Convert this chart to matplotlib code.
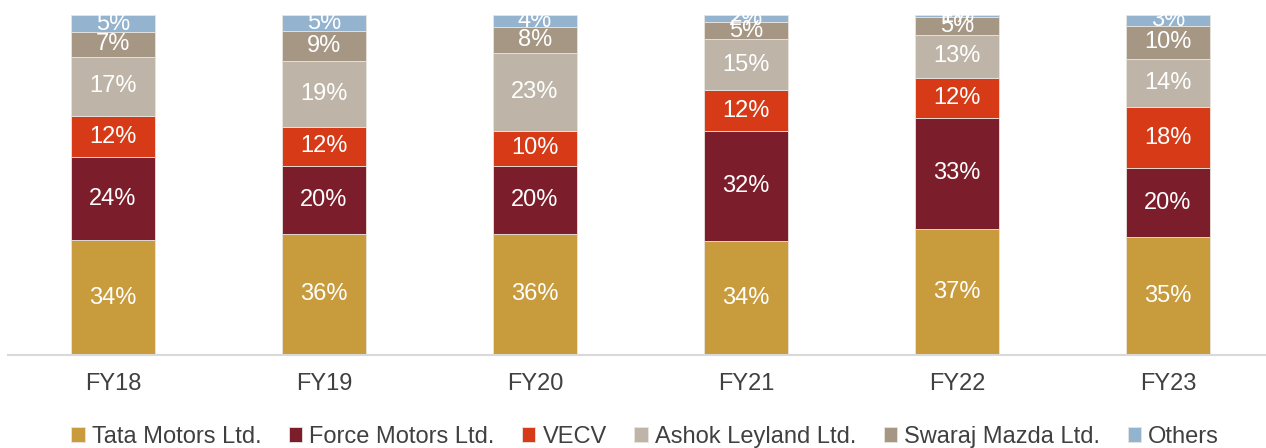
import matplotlib
matplotlib.use("Agg")
import matplotlib.pyplot as plt
import numpy as np

plt.rcParams['font.family'] = ['Liberation Sans', 'DejaVu Sans']

categories = ["FY18", "FY19", "FY20", "FY21", "FY22", "FY23"]
series_names = ["Tata Motors Ltd.", "Force Motors Ltd.", "VECV",
                "Ashok Leyland Ltd.", "Swaraj Mazda Ltd.", "Others"]
# shares (%); labels show them rounded
tata = [33.8, 35.6, 35.6, 33.6, 37.0, 34.6]
force = [24.4, 20.0, 20.0, 32.2, 32.8, 20.3]
vecv = [12.1, 11.6, 10.3, 12.1, 11.7, 17.9]
ashok = [17.4, 19.4, 22.9, 15.0, 12.6, 14.4]
swaraj = [7.3, 8.6, 7.6, 5.0, 5.2, 9.7]
others = [5.0, 4.8, 3.6, 2.1, 0.7, 3.1]
series = [tata, force, vecv, ashok, swaraj, others]
colors = ["#C89B3C", "#7C1D2B", "#D63A16", "#BEB5A8", "#A69784", "#94B3CF"]

fig = plt.figure(figsize=(12.66, 4.48), dpi=100)
ax = fig.add_axes([7.5 / 1266, 93 / 448, 1.0, 340 / 448])

x = np.arange(len(categories))
bottom = np.zeros(len(categories))
handles = []
for name, vals, col in zip(series_names, series, colors):
    vals = np.array(vals, dtype=float)
    bars = ax.bar(x, vals, width=0.398, bottom=bottom, color=col,
                  edgecolor="#e8e4de", linewidth=0.6, label=name, zorder=2)
    ax.bar_label(bars, labels=[f"{v:.0f}%" for v in vals], label_type="center",
                 color="white", fontsize=17, zorder=3)
    handles.append(bars)
    bottom += vals

ax.set_xlim(-0.5, 5.5)
ax.set_ylim(0, 100)
ax.set_yticks([])
ax.set_xticks(x)
ax.set_xticklabels(categories, fontsize=17, color="#404040")
ax.tick_params(axis="x", length=0, pad=13)
for s in ["top", "right", "left"]:
    ax.spines[s].set_visible(False)
ax.spines["bottom"].set_color("#D9D9D9")
ax.spines["bottom"].set_linewidth(1.5)
ax.patch.set_alpha(0)

fig.legend(handles=handles, labels=series_names, loc="center",
           bbox_to_anchor=(0.5095, 1 - 437 / 448), ncol=6, frameon=False,
           fontsize=17, labelcolor="#404040", handlelength=0.56,
           handleheight=0.56, handletextpad=0.3, columnspacing=1.17,
           borderaxespad=0, borderpad=0)

fig.savefig("out.png", dpi=100)
